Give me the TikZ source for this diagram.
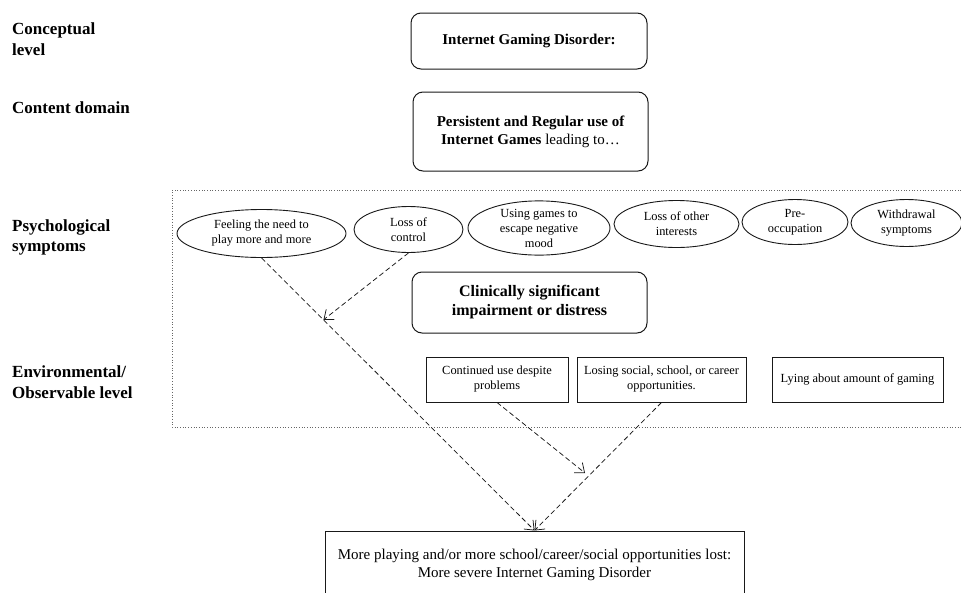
\documentclass[tikz,border=0pt]{standalone}
\usepackage{fontspec}
\setmainfont{Liberation Serif}
\usetikzlibrary{shapes.geometric,arrows.meta,calc}
\begin{document}
\begin{tikzpicture}[x=1pt,y=-1pt,
  lvl/.style={anchor=west,align=left,font=\fontsize{17}{20.5}\selectfont\bfseries,inner sep=0pt},
  rbox/.style={draw=black!90,line width=1pt,rounded corners=10pt,align=center,inner sep=0pt,font=\fontsize{15}{18}\selectfont},
  ell/.style={draw=black!90,line width=0.9pt,ellipse,inner sep=0pt,align=center,font=\fontsize{12.4}{15}\selectfont},
  sbox/.style={draw=black!90,line width=0.9pt,align=center,inner sep=0pt,font=\fontsize{12.4}{15}\selectfont},
  darr/.style={draw=black!90,line width=0.75pt,dash pattern=on 5pt off 3pt,-{Straight Barb[length=8pt,width=13pt,line width=0.75pt]}}]
\useasboundingbox (0,0) rectangle (961,592);
\fill[white] (0,0) rectangle (961,592);
\clip (0,0) rectangle (961,592);
% level labels
\node[lvl] (l1) at (12,39) {Conceptual\\level};
\node[lvl] (l2) at (12,108) {Content domain};
\node[lvl] (l3) at (12,237.5) {Psychological\\symptoms};
\node[lvl] (l4) at (12,382) {Environmental/\\Observable level};
% dotted region
\draw[black!60,line width=0.7pt,dash pattern=on 0.7pt off 2pt] (961,190) -- (172,190) -- (172,427) -- (961,427);
% top boxes
\node[rbox,minimum width=236pt,minimum height=56pt] (igd) at (529,41) {\bfseries Internet Gaming Disorder:};
\node[rbox,minimum width=235pt,minimum height=79pt] (cont) at (530.5,131.5) {\bfseries Persistent and Regular use of\\\textbf{Internet Games} leading to…};
\node[rbox,minimum width=235pt,minimum height=61pt,font=\fontsize{16}{19}\selectfont\bfseries] (clin) at (529.5,302.5) {Clinically significant\\impairment or distress};
% ellipses
\node[ell,minimum width=169pt,minimum height=48pt] (e1) at (261.5,233.5) {Feeling the need to\\play more and more};
\node[ell,minimum width=109pt,minimum height=46pt] (e2) at (408.5,229.5) {Loss of\\control};
\node[ell,minimum width=142pt,minimum height=49pt] (e3) at (539,228) {Using games to\\escape negative\\mood};
\node[ell,minimum width=125pt,minimum height=47pt] (e4) at (676.5,224) {Loss of other\\interests};
\node[ell,minimum width=106pt,minimum height=45pt] (e5) at (795,222) {Pre-\\occupation};
\node[ell,minimum width=111pt,minimum height=47pt] (e6) at (906.5,223) {Withdrawal\\symptoms};
% observable boxes
\node[sbox,minimum width=142pt,minimum height=45pt] (b1) at (497,379.5) {Continued use despite\\problems};
\node[sbox,minimum width=169pt,minimum height=45pt] (b2) at (661.5,379.5) {Losing social, school, or career\\opportunities.};
\node[sbox,minimum width=171pt,minimum height=45pt] (b3) at (857.5,379.5) {Lying about amount of gaming};
% bottom box (bottom edge falls outside the picture)
\node[draw=black!90,line width=1pt,minimum width=419pt,minimum height=68pt,inner sep=0pt,align=center,font=\fontsize{15}{18}\selectfont] (bot) at (534.5,565) {More playing and/or more school/career/social opportunities lost:\\More severe Internet Gaming Disorder};
% arrows
\coordinate (a2end) at ($(e1.south)!0.227!(bot.north)$);
\coordinate (a3end) at (585,473);
\draw[darr] (e1.south) -- (bot.north);
\draw[darr] (e2.south) -- (a2end);
\draw[darr] (b1.south) -- (a3end);
\draw[darr] (b2.south) -- (bot.north);
\end{tikzpicture}
\end{document}
